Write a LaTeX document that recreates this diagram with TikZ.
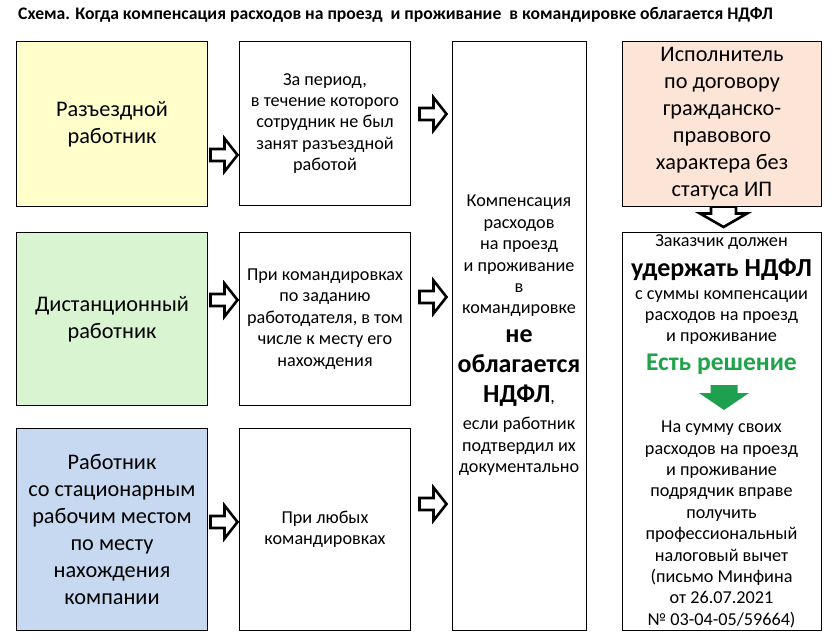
\documentclass[tikz,border=0pt]{standalone}
\usepackage{fontspec}
\setmainfont{Carlito}
\newcommand\fsz[2]{\fontsize{#1}{#2}\selectfont}
\definecolor{cyellow}{HTML}{FFFFCC}
\definecolor{cgreen}{HTML}{D8F4D1}
\definecolor{cblue}{HTML}{C6D9F0}
\definecolor{cpeach}{HTML}{FCE4D6}
\definecolor{okgreen}{HTML}{1FA34A}
\definecolor{arrgreen}{HTML}{1EA04E}
\begin{document}
\begin{tikzpicture}[x=1pt,y=-1pt,
  box/.style={draw=black,line width=1pt,anchor=north west,inner sep=0pt,align=center},
  big/.style={font=\fsz{22.3}{27}},
  mid/.style={font=\fsz{18.2}{21.4}},
  bold/.style={font=\bfseries\fsz{26}{30}},
  txt/.style={align=center,inner sep=0pt},
  hollow/.style={draw=black,line width=2.6pt,fill=white,line join=miter},
  harrow/.pic={\draw[hollow] (-13.5,-6) -- (0.5,-6) -- (0.5,-16.5) -- (13.5,0) -- (0.5,16.5) -- (0.5,6) -- (-13.5,6) -- cycle;}
]
\fill[white] (0,0) rectangle (837,643);
\useasboundingbox (0,0) rectangle (837,643);

\node[anchor=base west,inner sep=0pt,font=\bfseries\fsz{17.65}{20}] (title) at (18,19)
  {Схема. Когда компенсация расходов на проезд\ \ и проживание\ \ в командировке облагается НДФЛ};

% column 1
\node[box,big,fill=cyellow,minimum width=191pt,minimum height=165pt] (a1) at (16,41)
  {Разъездной\\работник};
\node[box,big,fill=cgreen,minimum width=191pt,minimum height=173pt] (a2) at (16,232)
  {Дистанционный\\работник};
\node[box,big,fill=cblue,minimum width=191pt,minimum height=202pt] (a3) at (16,428)
  {Работник\\со стационарным\\рабочим местом\\по месту\\нахождения\\компании};

% column 2
\node[box,mid,minimum width=171pt,minimum height=164pt] (b1) at (239,41)
  {За период,\\в течение которого\\сотрудник не был\\занят разъездной\\работой};
\node[box,mid,minimum width=171pt,minimum height=173pt] (b2) at (239,232)
  {При командировках\\по заданию\\работодателя, в том\\числе к месту его\\нахождения};
\node[box,mid,minimum width=171pt,minimum height=202pt] (b3) at (239,428)
  {При любых\\командировках};

% column 3
\node[box,minimum width=134pt,minimum height=589pt] (c) at (452,41) {};
\node[txt,mid] (c1) at (519,256)
  {Компенсация\\расходов\\на проезд\\и проживание\\в\\командировке};
\node[txt,bold] (c2) at (519,368)
  {не\\облагается\\НДФЛ{\mdseries\fsz{18}{21},}};
\node[txt,mid] (c3) at (519,446.5)
  {если работник\\подтвердил их\\документально};

% column 4
\draw[hollow] (711,206.5) -- (736,206.5) -- (736,213.5) -- (747,213.5) -- (723.5,227) -- (700,213.5) -- (711,213.5) -- cycle;
\node[box,big,fill=cpeach,minimum width=199pt,minimum height=165pt] (d1) at (622,41)
  {Исполнитель\\по договору\\гражданско-\\правового\\характера без\\статуса ИП};
\node[box,minimum width=199pt,minimum height=398pt] (d2) at (622,232) {};
\node[txt,mid] (d2a) at (721.5,242) {Заказчик должен};
\node[txt,bold] (d2b) at (721.5,270) {удержать НДФЛ};
\node[txt,mid] (d2c) at (721.5,317.5) {с суммы компенсации\\расходов на проезд\\и проживание};
\node[txt,font=\bfseries\fsz{25.5}{28},text=okgreen] (d2d) at (721.5,364) {Есть решение};
\fill[arrgreen] (710.5,385) -- (737.5,385) -- (737.5,393) -- (749,393) -- (724,410) -- (699,393) -- (710.5,393) -- cycle;
\node[txt,mid] (d2e) at (721.5,524.5)
  {На сумму своих\\расходов на проезд\\и проживание\\подрядчик вправе\\получить\\профессиональный\\налоговый вычет\\(письмо Минфина\\от 26.07.2021\\№ 03-04-05/59664)};

% block arrows
\pic at (224,155) {harrow};
\pic at (224,300) {harrow};
\pic at (224,522) {harrow};
\pic at (433,114) {harrow};
\pic at (433,297) {harrow};
\pic at (433,504) {harrow};
\end{tikzpicture}
\end{document}
